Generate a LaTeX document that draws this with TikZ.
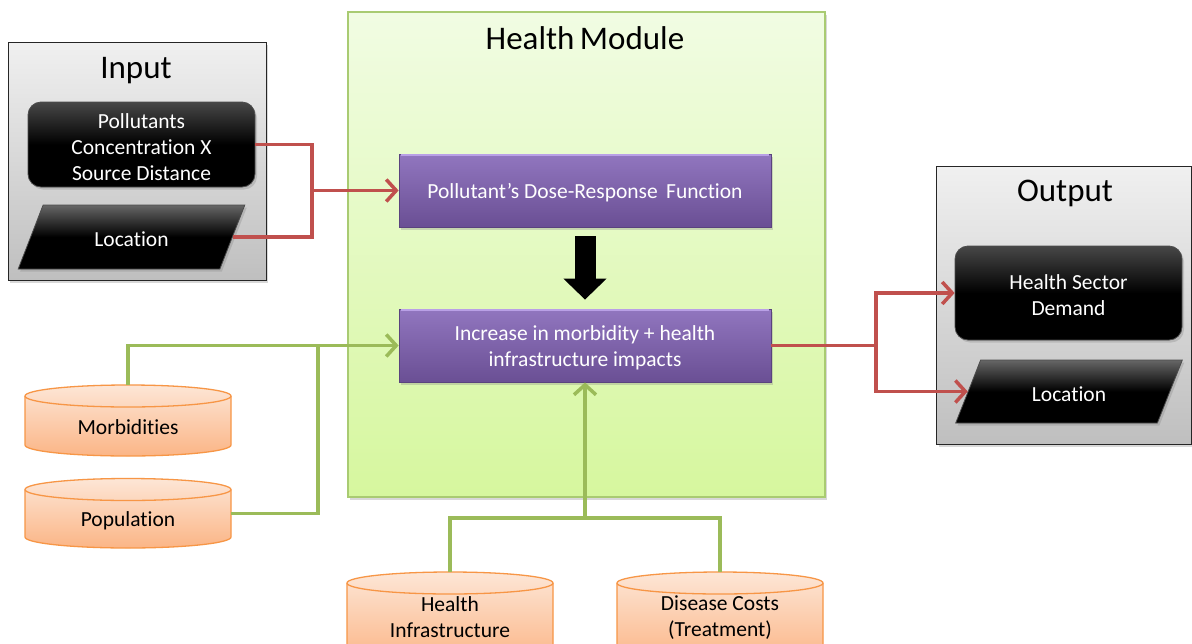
\documentclass[tikz,border=0pt]{standalone}
\usepackage{fontspec}
\setmainfont{Carlito}[Ligatures=NoCommon]
\usetikzlibrary{arrows.meta,shadows,shapes.geometric}
\definecolor{redc}{HTML}{C0504D}
\definecolor{greenc}{HTML}{9BBB59}
\definecolor{modborder}{HTML}{A9CB72}
\definecolor{modtop}{HTML}{F1FCE3}
\definecolor{modbot}{HTML}{D6F79E}
\definecolor{orangeb}{HTML}{F79646}
\definecolor{orangetop}{HTML}{FDE6D6}
\definecolor{orangebot}{HTML}{FBB586}
\definecolor{purtop}{HTML}{9176BF}
\definecolor{purbot}{HTML}{6A4F94}
\definecolor{purlight}{HTML}{B9A0E6}
\definecolor{graytop}{HTML}{F0F0F0}
\definecolor{graybot}{HTML}{BFBFBF}
\newcommand\bodyfont{\fontsize{21.5pt}{26pt}\selectfont}
\newcommand\titlefont{\fontsize{33pt}{38pt}\selectfont}
\newcommand\dbcyl[7]{% name, x1, x2, ytopcenter, ybotcenter, texty, text
  \pgfmathsetmacro\cylcx{(#2+#3)/2}
  \pgfmathsetmacro\cylrx{(#3-#2)/2}
  \path[cylbody] (#2,#4) -- (#2,#5) arc[start angle=180,end angle=0,x radius=\cylrx,y radius=11]
     -- (#3,#4) arc[start angle=0,end angle=-180,x radius=\cylrx,y radius=11] -- cycle;
  \draw[cylline] (#2,#4) arc[start angle=180,end angle=0,x radius=\cylrx,y radius=11];
  \coordinate (#1-top) at (\cylcx,#4-11);
  \coordinate (#1-east) at (#3,{(#4+#5)/2});
  \node[cyltext] (#1) at (\cylcx,#6) {#7};
}
\tikzset{
  shad/.style={drop shadow={opacity=0.3,shadow xshift=2pt,shadow yshift=-2.5pt}},
  graybox/.style={draw=black!85,line width=0.9pt,top color=graytop,bottom color=graybot,inner sep=0pt,shad},
  modbox/.style={draw=modborder,line width=1.2pt,top color=modtop,bottom color=modbot,inner sep=0pt,shad},
  whitetext/.style={label={[text=white,align=center,font=\bodyfont,inner sep=0pt,yshift=-2.5pt]center:#1}},
  blackbox/.style={rounded corners=13pt,draw=black!70,line width=0.8pt,top color=black!72,bottom color=black,middle color=black,inner sep=0pt,shad},
  paral/.style={trapezium,trapezium left angle=55,trapezium right angle=125,trapezium stretches=true,draw=black!70,line width=0.8pt,top color=black!60,bottom color=black,middle color=black,inner sep=0pt,font=\bodyfont,shad},
  purplebox/.style={draw=purbot!85!black,line width=0.8pt,top color=purtop,bottom color=purbot,inner sep=0pt,shad},
  titletext/.style={font=\titlefont,inner sep=0pt},
  cylbody/.style={draw=orangeb,line width=1.3pt,top color=orangetop,bottom color=orangebot},
  cylline/.style={draw=orangeb,line width=1.3pt},
  cyltext/.style={font=\bodyfont,align=center,inner sep=0pt},
  redline/.style={draw=redc,line width=3.5pt},
  redarrow/.style={redline,-{Straight Barb[length=10pt,width=22pt,line width=3.5pt]}},
  greenline/.style={draw=greenc,line width=3.5pt},
  greenarrow/.style={greenline,-{Straight Barb[length=10pt,width=22pt,line width=3.5pt]}},
  blockarrow/.style={draw=black,line width=21pt,-{Triangle[length=21pt,width=42pt]},shorten <=9pt,shorten >=9pt},
}
\begin{document}
\begin{tikzpicture}[x=1pt,y=-1pt]
\useasboundingbox (0,0) rectangle (1192,643);
\clip (0,0) rectangle (1192,643);
\fill[white] (0,0) rectangle (1192,643);

% Input panel
\node[graybox,minimum width=258pt,minimum height=238pt] (inbox) at (137,161) {};
\node[titletext] (intitle) at (136,71) {Input};
\node[blackbox,minimum width=227pt,minimum height=85pt,whitetext={Pollutants\\Concentration X\\Source Distance}] (pol) at (141.5,144.5) {};
\node[paral,minimum width=227pt,minimum height=64pt,whitetext={Location}] (inloc) at (131.5,237) {\phantom{Location}};

% Health module
\node[modbox,minimum width=477pt,minimum height=485pt] (mod) at (586.5,254.5) {};
\node[titletext] (modtitle) at (585,38) {Health\,Module};
\node[purplebox,minimum width=372pt,minimum height=73pt,whitetext={Pollutant’s Dose-Response\, Function}] (p1) at (585,190.5) {};
\node[purplebox,minimum width=372pt,minimum height=73pt,whitetext={Increase in morbidity + health\\infrastructure impacts}] (p2) at (585,345.5) {};
\draw[purlight,line width=2pt] ([xshift=2pt,yshift=-1.5pt]p1.north west) -- ([xshift=-2pt,yshift=-1.5pt]p1.north east);
\draw[purlight,line width=2pt] ([xshift=2pt,yshift=-1.5pt]p2.north west) -- ([xshift=-2pt,yshift=-1.5pt]p2.north east);
\draw[blockarrow] (p1.south) -- (p2.north);

% Output panel
\node[graybox,minimum width=255pt,minimum height=278pt] (outbox) at (1064,305) {};
\node[titletext] (outtitle) at (1065,193) {Output};
\node[blackbox,minimum width=227pt,minimum height=94pt,whitetext={Health Sector\\Demand}] (hsd) at (1068.5,293) {};
\node[paral,minimum width=227pt,minimum height=63pt,whitetext={Location}] (outloc) at (1069,391.5) {\phantom{Location}};

% Data stores
\dbcyl{morb}{25}{231}{396}{445}{427}{Morbidities}
\dbcyl{pop}{25}{231}{489.5}{537}{521}{Population}
\dbcyl{hi}{347}{553}{583}{652}{617.5}{Health\\Infrastructure}
\dbcyl{dc}{617}{823}{583}{652}{617.5}{Disease Costs\\(Treatment)}

% Red connectors (input)
\coordinate (jn) at (312,190.5);
\draw[redline] (pol.east) -| (jn);
\draw[redline] (inloc.east) -| (jn);
\draw[redarrow] (jn) -- (p1.west);

% Red connectors (output)
\coordinate (jo) at (876,345.5);
\draw[redline] (p2.east) -- (jo);
\draw[redarrow] (jo) |- (hsd.west);
\draw[redarrow] (jo) |- (outloc.west);

% Green connectors (left)
\coordinate (jg) at (318,345.5);
\draw[greenline] (morb-top) |- (jg);
\draw[greenline] (pop-east) -| (jg);
\draw[greenarrow] (jg) -- (p2.west);

% Green connectors (bottom)
\coordinate (jb) at (585,518);
\draw[greenline] (hi-top) |- (jb);
\draw[greenline] (dc-top) |- (jb);
\draw[greenarrow] (jb) -- (p2.south);
\end{tikzpicture}
\end{document}
